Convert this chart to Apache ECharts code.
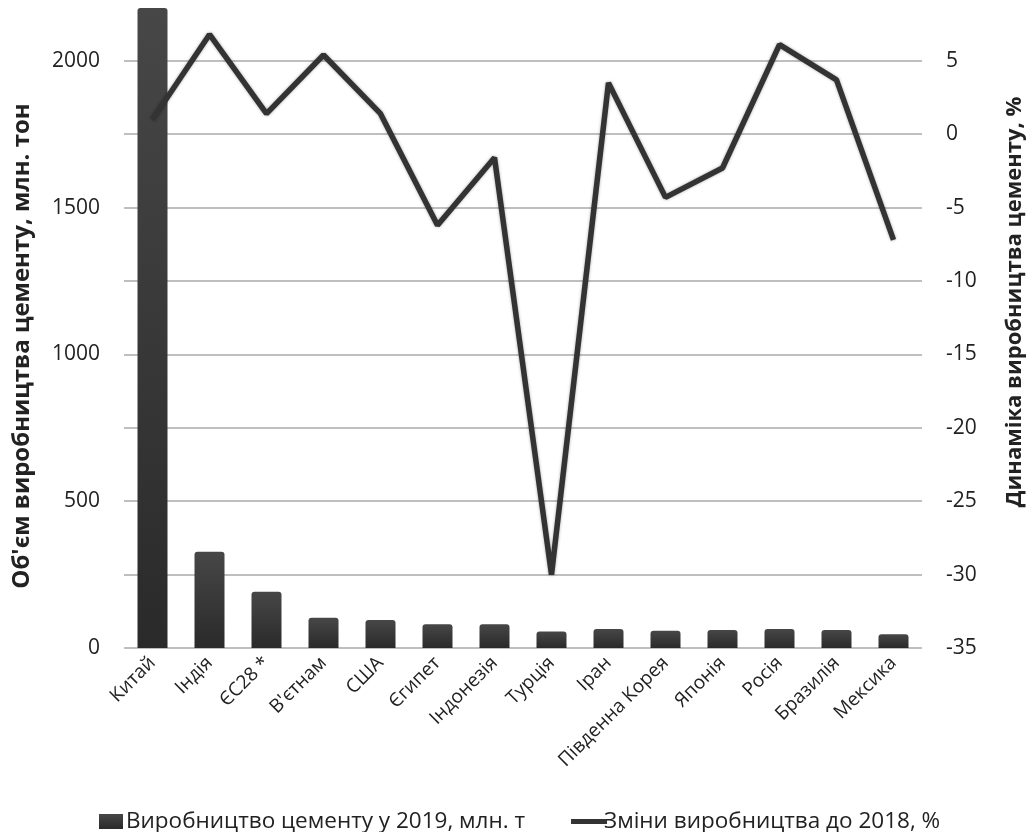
<!DOCTYPE html>
<html>
<head>
<meta charset="utf-8">
<script src="https://cdn.jsdelivr.net/npm/echarts@6/dist/echarts.min.js"></script>
<style>
html,body{margin:0;padding:0;background:#fff;}
#chart{width:1031px;height:832px;}
</style>
</head>
<body>
<div id="chart"></div>
<script>
const categories = ['Китай','Індія','ЄС28 *','В\'єтнам','США','Єгипет','Індонезія','Турція','Іран','Південна Корея','Японія','Росія','Бразилія','Мексика'];
const production2019 = [2200, 328, 192, 103, 95, 81, 81, 56, 65, 59, 61, 65, 61, 47];
const change2018 = [1.0, 6.8, 1.4, 5.4, 1.4, -6.2, -1.6, -30.0, 3.5, -4.3, -2.3, 6.1, 3.7, -7.2];
const leftTicks = [0, 500, 1000, 1500, 2000];
const rightTicks = [-35, -30, -25, -20, -15, -10, -5, 0, 5];
const seriesNames = ['Виробництво цементу у 2019, млн. т', 'Зміни виробництва до 2018, %'];
const leftTitle = 'Об\'єм виробництва цементу, млн. тон';
const rightTitle = 'Динаміка виробництва цементу, %';

const chart = echarts.init(document.getElementById('chart'), null, {renderer: 'canvas'});
const FONT = 'Open Sans';
chart.setOption({
  animation: false,
  backgroundColor: '#ffffff',
  grid: {left: 124, right: 109, top: 8, bottom: 184, containLabel: false},
  legend: {
    top: 805, left: 94,
    itemGap: 46, itemWidth: 36, itemHeight: 15,
    textStyle: {fontFamily: FONT, fontSize: 22.5, color: '#222', padding: [0,0,0,-8]},
    data: [
      {name: seriesNames[0], icon: 'path://M0,0 L24,0 L24,15 L0,15 Z'},
      {name: seriesNames[1], icon: 'path://M0,0 L36,0 L36,5 L0,5 Z', itemStyle: {color: '#333333'}}
    ]
  },
  xAxis: {
    type: 'category',
    data: categories,
    boundaryGap: true,
    axisLine: {show: false},
    axisTick: {show: false},
    axisLabel: {rotate: 45, margin: 12, fontFamily: FONT, fontSize: 19, color: '#222', interval: 0}
  },
  yAxis: [
    {
      type: 'value', min: 0, max: 2180, interval: 250,
      axisLine: {show: false}, axisTick: {show: false},
      splitLine: {show: true, showMaxLine: false, lineStyle: {color: '#aaaaaa', width: 1.5}},
      axisLabel: {
        margin: 24, fontFamily: FONT, fontSize: 21, color: '#222',
        formatter: v => leftTicks.indexOf(v) >= 0 ? String(v) : ''
      }
    },
    {
      type: 'value', min: -35, max: 8.6, interval: 5, position: 'right',
      axisLine: {show: false}, axisTick: {show: false},
      splitLine: {show: false},
      axisLabel: {
        margin: 24, fontFamily: FONT, fontSize: 21, color: '#222',
        formatter: v => rightTicks.indexOf(v) >= 0 ? String(v) : ''
      }
    }
  ],
  series: [
    {
      name: seriesNames[0],
      type: 'bar',
      yAxisIndex: 0,
      data: production2019,
      barWidth: 30,
      itemStyle: {
        borderRadius: [3,3,0,0],
        color: new echarts.graphic.LinearGradient(0,0,0,1,[
          {offset: 0, color: '#474747'},
          {offset: 1, color: '#2a2a2a'}
        ])
      },
      z: 2
    },
    {
      name: seriesNames[1],
      type: 'line',
      yAxisIndex: 1,
      data: change2018,
      symbol: 'none',
      lineStyle: {color: '#333333', width: 5.5, shadowColor: 'rgba(0,0,0,0.35)', shadowBlur: 3},
      itemStyle: {color: '#333333'},
      z: 3
    }
  ],
  graphic: [
    {
      type: 'text', x: 22, y: 346, rotation: Math.PI/2,
      style: {text: leftTitle, fontFamily: FONT, fontWeight: 'bold', fontSize: 24, fill: '#222', align: 'center', verticalAlign: 'middle'}
    },
    {
      type: 'text', x: 1015, y: 302, rotation: Math.PI/2,
      style: {text: rightTitle, fontFamily: FONT, fontWeight: 'bold', fontSize: 22, fill: '#222', align: 'center', verticalAlign: 'middle'}
    }
  ]
});
</script>
</body>
</html>
